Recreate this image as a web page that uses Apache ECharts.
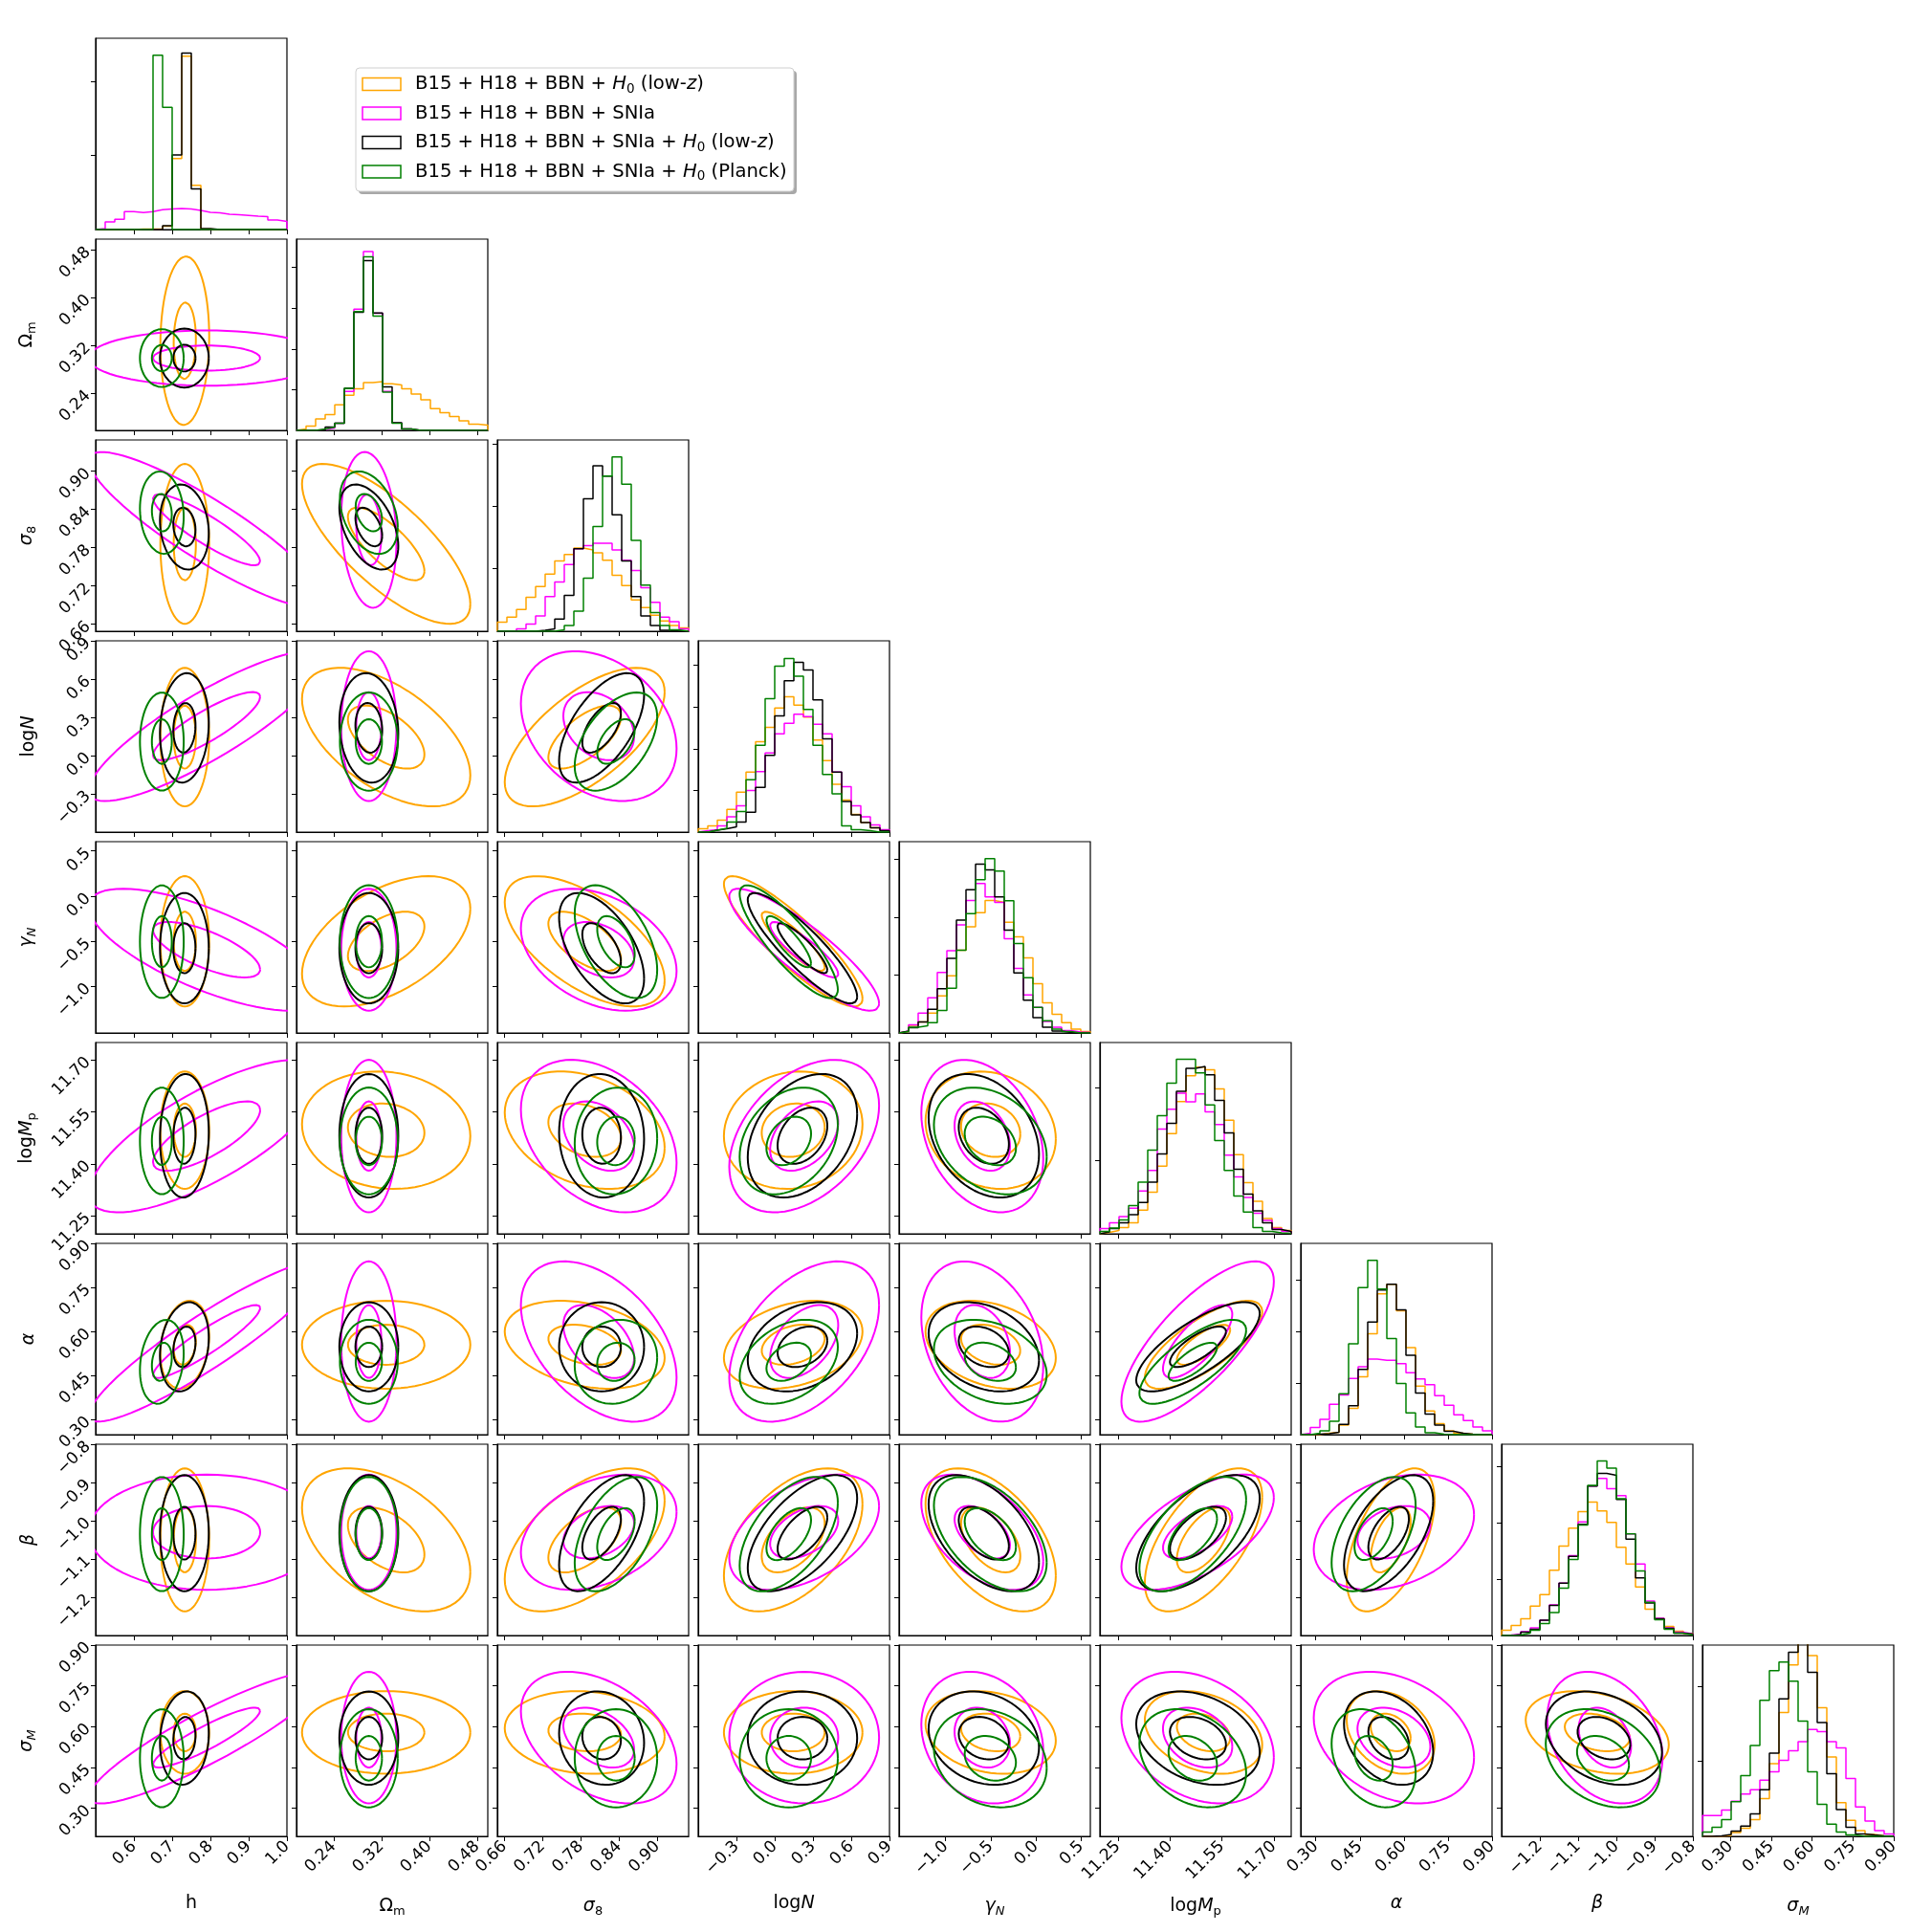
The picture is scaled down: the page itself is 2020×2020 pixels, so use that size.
<!DOCTYPE html>
<html>
<head>
<meta charset="utf-8">
<script src="https://cdn.jsdelivr.net/npm/echarts@6/dist/echarts.min.js"></script>
<style>
  html, body { margin: 0; background: #fff; }
  #chart { width: 2020px; height: 2020px; }
</style>
</head>
<body>
<div id="chart"></div>
<script>
// parameter order: h, Om, s8, logN, gN, logMp, alpha, beta, sigM
const rangeLo = [0.5, 0.178, 0.649, -0.6, -1.516, 11.198, 0.249, -1.3, 0.197];
const rangeHi = [1.0, 0.498, 0.949, 0.9, 0.603, 11.75, 0.90, -0.8, 0.90];
const tickVals = [
  [0.6, 0.7, 0.8, 0.9, 1.0],
  [0.24, 0.32, 0.40, 0.48],
  [0.66, 0.72, 0.78, 0.84, 0.90],
  [-0.3, 0.0, 0.3, 0.6, 0.9],
  [-1.0, -0.5, 0.0, 0.5],
  [11.25, 11.40, 11.55, 11.70],
  [0.30, 0.45, 0.60, 0.75, 0.90],
  [-1.2, -1.1, -1.0, -0.9, -0.8],
  [0.30, 0.45, 0.60, 0.75, 0.90]
];
const tickDigits = [1, 2, 2, 1, 1, 2, 2, 1, 2];
// histogram count ticks (percent of panel height)
const histTickStep = [38.75, 21.3, 32.7, 21.8, 30.3, 38.3, 26.9, 29.4, 39.2];

// 1D histograms, 20 bins, order: orange, magenta, black, green
const histH = [
  [0, 0, 0, 0, 0.3, 0.3, 0.3, 1.7, 37.1, 90.6, 23.1, 0.3, 0, 0, 0, 0, 0, 0, 0, 0],
  [0.5, 4.0, 5.4, 9.4, 8.9, 9.4, 10.4, 10.7, 11.0, 10.7, 10.0, 9.0, 8.7, 8.0, 7.7, 7.4, 7.0, 6.7, 5.0, 4.3],
  [0, 0, 0, 0, 0, 0, 0, 2.0, 39.0, 92.3, 21.2, 0.5, 0, 0, 0, 0, 0, 0, 0, 0],
  [0, 0, 0, 0, 0, 0, 91.1, 63.9, 0, 0, 0, 0, 0, 0, 0, 0, 0, 0, 0, 0]
];
const histOm = [
  [0.7, 2.3, 6.0, 8.3, 13.4, 18.4, 21.7, 25.0, 25.5, 24.4, 23.7, 21.7, 19.0, 16.0, 11.4, 9.3, 7.3, 5.0, 3.3, 2.7],
  [0, 0, 0.5, 1.3, 3.7, 20.4, 63.4, 93.5, 61.3, 20.4, 4.0, 0.7, 0, 0, 0, 0, 0, 0, 0, 0],
  [0, 0, 0, 1.7, 3.7, 22.0, 61.8, 88.8, 61.4, 22.7, 4.0, 0.7, 0, 0, 0, 0, 0, 0, 0, 0],
  [0, 0, 0.7, 1.7, 3.7, 22.0, 62.1, 90.8, 59.8, 20.0, 3.7, 0.7, 0, 0, 0, 0, 0, 0, 0, 0]
];
const histS8 = [
  [4.7, 7.4, 11.4, 17.7, 23.4, 29.9, 36.8, 40.1, 43.5, 42.5, 41.0, 37.1, 29.3, 23.9, 16.4, 12.4, 8.4, 5.4, 3.0, 1.7],
  [0, 0, 1.3, 3.7, 8.0, 18.1, 25.8, 34.9, 43.1, 44.8, 46.0, 46.0, 42.5, 37.1, 31.8, 22.7, 15.1, 7.4, 5.0, 1.3],
  [0, 0, 0, 0, 0.5, 1.3, 6.4, 18.7, 43.1, 69.2, 86.5, 81.1, 60.9, 36.8, 18.1, 8.0, 3.0, 0.5, 0, 0],
  [0, 0, 0, 0, 0, 0, 0.8, 3.0, 10.5, 27.8, 54.8, 81.1, 91.1, 76.9, 47.5, 24.1, 9.7, 3.0, 0.7, 0]
];
const histLogN = [
  [1.7, 3.3, 6.3, 11.9, 20.9, 31.4, 47.2, 54.8, 64.9, 70.8, 66.4, 60.1, 48.1, 37.4, 25.0, 16.7, 9.3, 5.0, 2.3, 1.0],
  [0.7, 1.3, 3.3, 8.0, 13.7, 21.7, 31.6, 41.4, 51.4, 56.9, 61.6, 60.4, 56.4, 51.4, 31.4, 23.7, 13.7, 8.0, 3.7, 1.3],
  [0, 1.0, 1.7, 2.7, 5.3, 10.4, 23.4, 40.1, 60.8, 79.1, 88.8, 84.8, 69.1, 48.7, 31.4, 16.0, 9.0, 5.0, 2.3, 0.7],
  [0, 1.0, 2.0, 5.3, 10.7, 27.4, 45.4, 69.8, 86.8, 90.8, 81.5, 64.1, 45.4, 30.1, 20.0, 3.3, 1.3, 0.7, 0, 0]
];
const histGN = [
  [0.7, 4.0, 5.7, 10.4, 19.4, 29.9, 43.3, 55.5, 62.9, 69.2, 68.2, 57.9, 50.2, 39.3, 25.8, 15.7, 9.7, 5.4, 2.0, 0.7],
  [1.0, 4.3, 10.4, 18.4, 31.6, 43.0, 56.5, 69.2, 78.1, 71.1, 68.2, 49.3, 33.8, 19.9, 13.4, 6.0, 3.0, 1.3, 0.5, 0.2],
  [1.0, 2.7, 5.7, 12.4, 23.1, 39.0, 59.0, 74.9, 88.3, 85.3, 71.1, 53.8, 31.4, 17.1, 8.0, 3.0, 1.0, 0.3, 0, 0],
  [0.7, 3.0, 3.7, 5.4, 11.7, 23.4, 43.3, 62.4, 80.1, 91.1, 84.6, 69.1, 46.8, 28.9, 13.4, 6.4, 2.0, 0.7, 0, 0]
];
const histLogMp = [
  [0.7, 1.7, 3.3, 5.7, 12.4, 21.7, 35.4, 52.4, 69.1, 82.6, 87.1, 85.8, 75.8, 59.4, 41.4, 26.7, 17.0, 8.0, 3.3, 1.7],
  [2.7, 5.7, 9.0, 13.4, 22.4, 33.1, 54.8, 65.1, 73.5, 69.0, 73.1, 63.8, 57.1, 41.1, 29.7, 19.0, 10.7, 7.0, 2.7, 1.3],
  [1.0, 2.7, 5.7, 10.0, 16.4, 27.0, 41.7, 57.8, 74.5, 86.5, 87.5, 83.1, 69.8, 52.8, 33.7, 20.7, 12.0, 5.7, 2.3, 1.3],
  [1.3, 3.0, 7.3, 14.7, 27.0, 43.7, 61.8, 78.8, 91.2, 91.2, 84.1, 67.4, 48.7, 33.1, 19.7, 11.4, 3.3, 1.3, 0.5, 0.2]
];
const histAlpha = [
  [0, 0, 0.7, 1.3, 5.0, 13.7, 30.3, 52.8, 73.6, 78.6, 64.7, 45.5, 25.4, 12.4, 5.7, 2.0, 0.7, 0.3, 0, 0],
  [0.7, 3.7, 8.0, 15.9, 20.7, 29.4, 35.5, 39.5, 38.9, 38.9, 37.1, 32.4, 29.1, 26.1, 20.4, 15.4, 10.4, 7.4, 4.0, 2.0],
  [0, 0.2, 0.5, 1.3, 5.4, 15.1, 34.1, 58.9, 75.6, 78.6, 65.2, 41.5, 21.7, 10.7, 5.0, 1.7, 0.7, 0.2, 0, 0],
  [0, 0.7, 2.0, 7.0, 21.4, 47.5, 76.9, 91.1, 76.1, 50.2, 26.8, 11.4, 4.0, 1.0, 0.3, 0, 0, 0, 0, 0]
];
const histBeta = [
  [2.7, 5.3, 8.7, 15.4, 21.4, 34.1, 46.7, 56.1, 64.8, 69.8, 65.1, 59.1, 46.1, 37.4, 25.4, 13.7, 8.7, 4.7, 2.3, 1.0],
  [0.3, 0.7, 2.0, 4.0, 8.0, 16.0, 27.4, 41.7, 59.4, 78.1, 82.1, 76.8, 73.1, 53.1, 37.4, 18.0, 9.0, 4.0, 1.7, 0.7],
  [0, 0.5, 1.7, 3.3, 8.0, 15.7, 27.4, 41.4, 58.1, 78.1, 84.8, 83.8, 71.1, 50.4, 30.1, 17.0, 8.7, 3.7, 1.3, 0.7],
  [0, 0.3, 1.3, 2.7, 6.3, 12.0, 24.7, 39.7, 57.8, 78.5, 91.2, 87.5, 71.5, 53.1, 33.7, 17.4, 8.3, 3.3, 1.3, 0.3]
];
const histSigM = [
  [0, 0, 0.5, 2.0, 4.3, 8.7, 19.7, 38.0, 64.7, 89.6, 104, 94.5, 67.2, 41.5, 17.6, 8.4, 3.0, 1.0, 0.3, 0],
  [10.9, 10.9, 13.7, 18.4, 22.1, 24.4, 29.4, 33.8, 39.8, 44.8, 49.5, 55.9, 54.8, 49.5, 46.2, 30.3, 15.4, 8.0, 3.0, 1.3],
  [0, 0.3, 1.0, 2.7, 5.4, 11.7, 24.4, 43.5, 71.9, 96.2, 106, 85.8, 59.5, 32.8, 14.0, 4.7, 1.3, 0.7, 0.2, 0],
  [2.3, 4.7, 8.7, 18.1, 31.8, 47.5, 71.1, 86.6, 91.1, 81.1, 60.2, 33.8, 16.7, 6.4, 2.3, 0.7, 0, 0, 0, 0]
];
const hists = [histH, histOm, histS8, histLogN, histGN, histLogMp, histAlpha, histBeta, histSigM];

// 2D contours: centre, 1-sigma width and correlation
const meanOrange  = [0.733, 0.328, 0.786, 0.145, -0.501, 11.497, 0.555, -1.05, 0.579];
const sigmaOrange = [0.029, 0.064, 0.057, 0.247, 0.328, 0.077, 0.068, 0.085, 0.069];
const corrOrange = [
  [0.05],
  [0, -0.75],
  [0, -0.55, 0.65],
  [0, 0.5, -0.6, -0.88],
  [0, -0.1, -0.3, 0.1, -0.15],
  [0.2, 0, -0.3, 0.3, -0.3, 0.75],
  [0, -0.45, 0.55, 0.5, -0.5, 0.6, 0.55],
  [0, 0, -0.1, 0, -0.2, -0.3, -0.3, -0.3]
];
const meanMagenta  = [0.79, 0.299, 0.808, 0.231, -0.594, 11.48, 0.566, -1.03, 0.56];
const sigmaMagenta = [0.14, 0.021, 0.0555, 0.267, 0.307, 0.1, 0.124, 0.0685, 0.11];
const corrMagenta = [
  [0],
  [-0.89, -0.15],
  [0.86, 0, -0.3],
  [-0.71, 0, -0.35, -0.88],
  [0.75, 0, -0.35, 0.4, -0.3],
  [0.92, 0, -0.45, 0.45, -0.3, 0.75],
  [0, 0, 0.35, 0.45, -0.5, 0.6, 0.3],
  [0.9, 0, -0.4, 0, -0.2, -0.3, -0.3, -0.3]
];
const meanBlack  = [0.732, 0.299, 0.8125, 0.2175, -0.577, 11.481, 0.548, -1.0325, 0.558];
const sigmaBlack = [0.029, 0.0224, 0.0303, 0.195, 0.278, 0.081, 0.069, 0.069, 0.078];
const corrBlack = [
  [0],
  [-0.15, -0.45],
  [0.1, -0.1, 0.6],
  [0, 0, -0.55, -0.88],
  [0.05, 0, -0.05, 0.35, -0.3],
  [0.2, 0, 0, 0.3, -0.3, 0.75],
  [0, 0, 0.55, 0.6, -0.5, 0.6, 0.55],
  [0.1, 0, -0.1, 0, -0.2, -0.3, -0.3, -0.3]
];
const meanGreen  = [0.673, 0.299, 0.835, 0.11, -0.505, 11.466, 0.497, -1.035, 0.484];
const sigmaGreen = [0.026, 0.022, 0.0294, 0.175, 0.284, 0.070, 0.065, 0.068, 0.082];
const corrGreen = [
  [0],
  [-0.1, -0.35],
  [0, 0, 0.5],
  [0, 0, -0.5, -0.85],
  [0, 0, 0.05, 0.3, -0.3],
  [0.2, 0, 0.1, 0.35, -0.3, 0.75],
  [0, 0, 0.5, 0.55, -0.5, 0.6, 0.5],
  [0, 0, 0, 0, -0.2, -0.3, -0.3, -0.3]
];
const contourRadii = [1, 2.2];

const FONT = 'DejaVu Sans';
const chains = [
  { color: '#ffa500', mean: meanOrange, sigma: sigmaOrange, corr: corrOrange,
    label: 'B15 + H18 + BBN + {i|H}{s|0} (low-{i|z})' },
  { color: '#ff00ff', mean: meanMagenta, sigma: sigmaMagenta, corr: corrMagenta,
    label: 'B15 + H18 + BBN + SNIa' },
  { color: '#000000', mean: meanBlack, sigma: sigmaBlack, corr: corrBlack,
    label: 'B15 + H18 + BBN + SNIa + {i|H}{s|0} (low-{i|z})' },
  { color: '#008000', mean: meanGreen, sigma: sigmaGreen, corr: corrGreen,
    label: 'B15 + H18 + BBN + SNIa + {i|H}{s|0} (Planck)' }
];

const axisNames = ['h', 'Ω{sub|m}', '{it|σ}{sub|8}', 'log{it|N}', '{it|γ}{subit|N}',
  'log{it|M}{sub|p}', '{it|α}', '{it|β}', '{it|σ}{subit|M}'];
const nameRich = {
  it: { fontStyle: 'italic', fontSize: 19, fontFamily: FONT, color: '#000' },
  sub: { fontSize: 13, fontFamily: FONT, color: '#000', padding: [11, 0, 0, 0] },
  subit: { fontSize: 13, fontStyle: 'italic', fontFamily: FONT, color: '#000', padding: [11, 0, 0, 0] }
};

function fmt(v, d) {
  return v.toFixed(d).replace('-', '\u2212');
}

function ellipse(ch, i, j, r) {
  // x = parameter j, y = parameter i
  const mx = ch.mean[j], my = ch.mean[i];
  const sx = ch.sigma[j], sy = ch.sigma[i];
  const rho = ch.corr[i - 1][j];
  const q = Math.sqrt(1 - rho * rho);
  const pts = [];
  for (let k = 0; k <= 72; k++) {
    const t = 2 * Math.PI * k / 72;
    pts.push([mx + r * sx * Math.cos(t), my + r * sy * (rho * Math.cos(t) + q * Math.sin(t))]);
  }
  return pts;
}

function histSteps(vals, lo, hi) {
  const w = (hi - lo) / vals.length;
  const pts = [[lo, 0]];
  vals.forEach((v, k) => pts.push([lo + k * w, v]));
  pts.push([hi, vals[vals.length - 1]]);
  pts.push([hi, 0]);
  return pts;
}

const grids = [], xAxes = [], yAxes = [], series = [];
let g = 0;
for (let r = 0; r < 9; r++) {
  for (let c = 0; c <= r; c++) {
    grids.push({
      left: 100 + 210 * c, top: 40 + 210 * r, width: 200, height: 200,
      show: true, borderColor: '#000', borderWidth: 1.2
    });
    const bottom = r === 8;
    const leftCol = c === 0 && r > 0;
    xAxes.push({
      type: 'value', gridIndex: g, min: rangeLo[c], max: rangeHi[c],
      axisLine: { show: true, onZero: false, lineStyle: { color: '#000', width: 1.2 } },
      axisTick: { show: true, length: 5, lineStyle: { color: '#000', width: 1 }, customValues: tickVals[c] },
      axisLabel: {
        show: bottom, customValues: tickVals[c], rotate: 45, margin: 8,
        formatter: v => fmt(v, tickDigits[c]),
        fontSize: 17, color: '#000', fontFamily: FONT
      },
      splitLine: { show: false },
      name: bottom ? axisNames[c] : '', nameLocation: 'middle', nameGap: 61,
      nameTextStyle: { fontSize: 19, fontFamily: FONT, color: '#000', rich: nameRich }
    });
    if (r === c) {
      const ticks = [];
      for (let v = histTickStep[r]; v < 100; v += histTickStep[r]) ticks.push(v);
      yAxes.push({
        type: 'value', gridIndex: g, min: 0, max: 100,
        axisLine: { show: true, onZero: false, lineStyle: { color: '#000', width: 1.2 } },
        axisTick: { show: true, length: 5, lineStyle: { color: '#000' }, customValues: ticks },
        axisLabel: { show: false },
        splitLine: { show: false }
      });
      chains.forEach((ch, k) => {
        series.push({
          type: 'line', xAxisIndex: g, yAxisIndex: g, step: 'end',
          data: histSteps(hists[r][k], rangeLo[r], rangeHi[r]),
          showSymbol: false, silent: true, clip: true,
          lineStyle: { color: ch.color, width: 1.5 }
        });
      });
    } else {
      yAxes.push({
        type: 'value', gridIndex: g, min: rangeLo[r], max: rangeHi[r],
        axisLine: { show: true, onZero: false, lineStyle: { color: '#000', width: 1.2 } },
        axisTick: { show: true, length: 5, lineStyle: { color: '#000' }, customValues: tickVals[r] },
        axisLabel: {
          show: leftCol, customValues: tickVals[r], rotate: 45, margin: 8,
          formatter: v => fmt(v, tickDigits[r]),
          fontSize: 17, color: '#000', fontFamily: FONT
        },
        splitLine: { show: false },
        name: leftCol ? axisNames[r] : '', nameLocation: 'middle', nameGap: 60, nameRotate: 90,
        nameTextStyle: { fontSize: 19, fontFamily: FONT, color: '#000', rich: nameRich }
      });
      chains.forEach(ch => {
        contourRadii.forEach(rad => {
          series.push({
            type: 'line', xAxisIndex: g, yAxisIndex: g,
            data: ellipse(ch, r, c, rad),
            showSymbol: false, silent: true, clip: true,
            lineStyle: { color: ch.color, width: 2 }
          });
        });
      });
    }
    g++;
  }
}

// legend box
const legendItems = [];
legendItems.push({ type: 'rect', shape: { x: 375, y: 74, width: 458, height: 129, r: 4 }, style: { fill: '#a8a8a8' }, z: 10 });
legendItems.push({ type: 'rect', shape: { x: 372, y: 71, width: 458, height: 129, r: 4 }, style: { fill: '#fff', stroke: '#d0d0d0', lineWidth: 1 }, z: 11 });
chains.forEach((ch, k) => {
  const cy = 88 + 30.5 * k;
  legendItems.push({ type: 'rect', shape: { x: 379, y: cy - 6.5, width: 40, height: 13 }, style: { fill: 'none', stroke: ch.color, lineWidth: 1.5 }, z: 12 });
  legendItems.push({
    type: 'text', x: 434, y: cy, z: 12,
    style: {
      text: ch.label, fill: '#000', fontSize: 19.6, fontFamily: FONT, verticalAlign: 'middle',
      rich: {
        i: { fontStyle: 'italic', fontSize: 19.6, fontFamily: FONT },
        s: { fontSize: 13.5, fontFamily: FONT, padding: [10, 0, 0, 0] }
      }
    }
  });
});

const chart = echarts.init(document.getElementById('chart'));
chart.setOption({
  animation: false,
  backgroundColor: '#fff',
  grid: grids,
  xAxis: xAxes,
  yAxis: yAxes,
  series: series,
  graphic: legendItems
});
</script>
</body>
</html>
